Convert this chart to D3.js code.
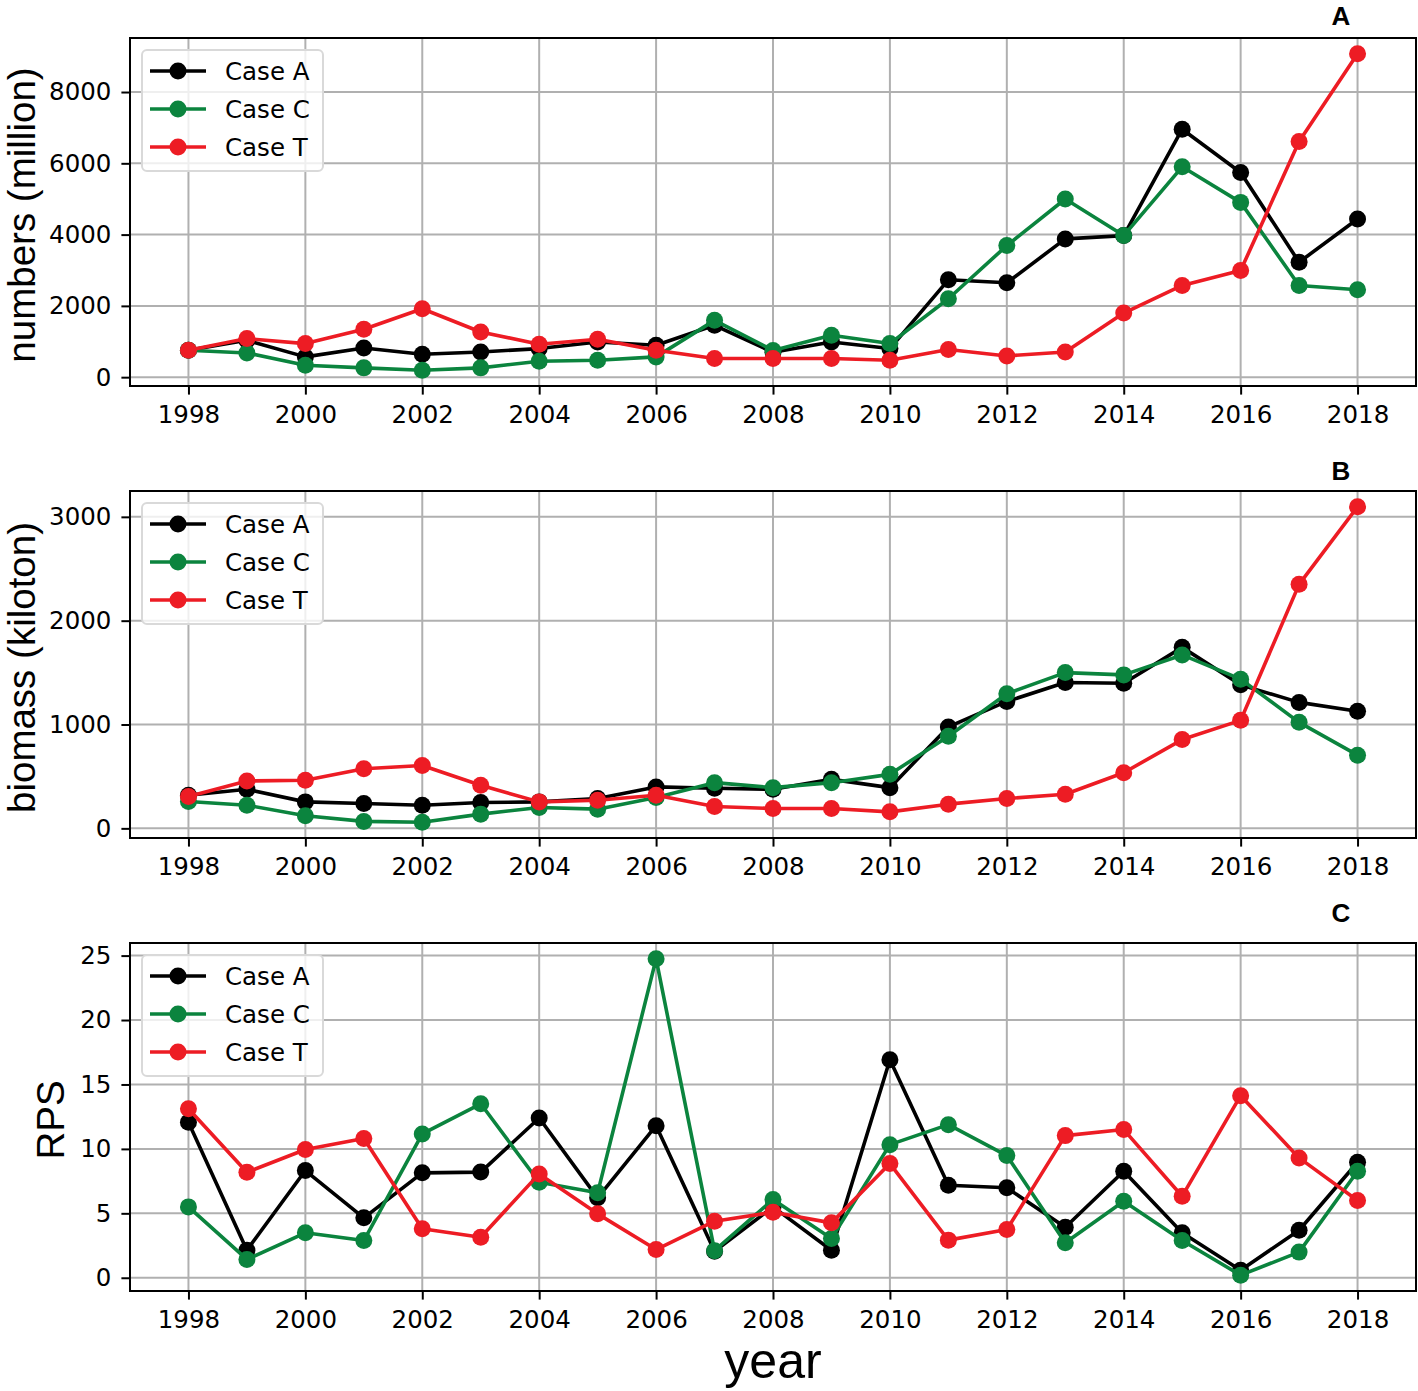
<!DOCTYPE html>
<html>
<head>
<meta charset="utf-8">
<script src="https://cdn.jsdelivr.net/npm/d3@7"></script>
<style>
  body { margin: 0; background: #fff; }
  svg { display: block; }
</style>
</head>
<body>
<svg id="chart" width="1418" height="1391"></svg>
<script>
// ---- data ----
const years = d3.range(1998, 2019);
const xTicks = d3.range(1998, 2019, 2);
const caseNames = ["Case A", "Case C", "Case T"];

// numbers (million)
const numbersA = [755, 1035, 569, 820, 643, 708, 802, 988, 895, 1455, 700, 988, 802, 2732, 2648, 3879, 3972, 6957, 5743, 3226, 4439];
const numbersC = [755, 680, 336, 261, 196, 261, 448, 475, 569, 1594, 750, 1175, 942, 2200, 3692, 4998, 3972, 5902, 4904, 2573, 2453];
const numbersT = [755, 1082, 942, 1343, 1920, 1268, 923, 1063, 755, 522, 522, 522, 475, 774, 596, 708, 1800, 2573, 2993, 6611, 9072];

// biomass (kiloton)
const biomassA = [319, 376, 255, 239, 223, 249, 255, 287, 399, 386, 376, 472, 392, 977, 1222, 1404, 1398, 1743, 1382, 1213, 1127];
const biomassC = [258, 223, 121, 67, 59, 137, 201, 185, 297, 440, 392, 440, 520, 887, 1296, 1500, 1478, 1670, 1437, 1021, 705];
const biomassT = [306, 456, 463, 574, 606, 415, 255, 271, 319, 211, 191, 191, 159, 233, 287, 329, 536, 855, 1040, 2350, 3097];

// RPS
const rpsA = [12.06, 2.14, 8.32, 4.65, 8.14, 8.2, 12.4, 6.2, 11.8, 2.06, 5.5, 2.14, 16.92, 7.18, 6.98, 3.92, 8.26, 3.49, 0.59, 3.69, 8.96];
const rpsC = [5.5, 1.42, 3.49, 2.89, 11.16, 13.5, 7.41, 6.59, 24.75, 2.1, 6.07, 3.05, 10.33, 11.88, 9.48, 2.71, 5.94, 2.89, 0.2, 1.99, 8.26];
const rpsT = [13.12, 8.19, 9.95, 10.8, 3.8, 3.15, 8.06, 4.96, 2.19, 4.39, 5.09, 4.26, 8.86, 2.92, 3.74, 11.03, 11.5, 6.33, 14.13, 9.3, 5.99];

const numbersTicks = [0, 2000, 4000, 6000, 8000];
const biomassTicks = [0, 1000, 2000, 3000];
const rpsTicks = [0, 5, 10, 15, 20, 25];

// ---- layout ----
const colors = ["#000000", "#0b843e", "#ed1c24"];
const left = 130, right = 1416;
const panels = [
  { top: 38,  bottom: 386,  series: [numbersA, numbersC, numbersT], ticks: numbersTicks,
    label: "numbers (million)", labelX: 22, letter: "A", letterY: 25 },
  { top: 491, bottom: 838,  series: [biomassA, biomassC, biomassT], ticks: biomassTicks,
    label: "biomass (kiloton)", labelX: 22, letter: "B", letterY: 480 },
  { top: 943, bottom: 1291, series: [rpsA, rpsC, rpsT], ticks: rpsTicks,
    label: "RPS", labelX: 51, letter: "C", letterY: 922 }
];

const svg = d3.select("#chart");
const tickFont = "'DejaVu Sans', sans-serif";
const labelFont = "'Liberation Sans', Arial, sans-serif";

// matplotlib-style 5% autoscale margins
function padded(lo, hi) {
  const m = (hi - lo) * 0.05;
  return [lo - m, hi + m];
}

const x = d3.scaleLinear().domain(padded(1998, 2018)).range([left, right]);

panels.forEach(p => {
  const all = p.series.flat();
  const y = d3.scaleLinear().domain(padded(d3.min(all), d3.max(all))).range([p.bottom, p.top]);
  const g = svg.append("g");

  // grid
  g.append("g").selectAll("line").data(xTicks).join("line")
    .attr("x1", d => x(d)).attr("x2", d => x(d))
    .attr("y1", p.top).attr("y2", p.bottom)
    .attr("stroke", "#b0b0b0").attr("stroke-width", 2);
  g.append("g").selectAll("line").data(p.ticks).join("line")
    .attr("x1", left).attr("x2", right)
    .attr("y1", d => y(d)).attr("y2", d => y(d))
    .attr("stroke", "#b0b0b0").attr("stroke-width", 2);

  // axes
  const xAxis = g.append("g")
    .attr("transform", `translate(0,${p.bottom})`)
    .call(d3.axisBottom(x).tickValues(xTicks).tickFormat(d3.format("d")).tickSize(8.6).tickPadding(11));
  const yAxis = g.append("g")
    .attr("transform", `translate(${left},0)`)
    .call(d3.axisLeft(y).tickValues(p.ticks).tickFormat(d3.format("d")).tickSize(8.6).tickPadding(10));
  [xAxis, yAxis].forEach(a => {
    a.select(".domain").remove();
    a.selectAll("line").attr("stroke", "#000").attr("stroke-width", 2);
    a.selectAll("text").attr("font-family", tickFont).attr("font-size", 24.5).attr("fill", "#000");
  });

  // lines and markers
  p.series.forEach((vals, i) => {
    const pts = years.map((yr, j) => [yr, vals[j]]);
    g.append("path").datum(pts)
      .attr("fill", "none").attr("stroke", colors[i]).attr("stroke-width", 3.6)
      .attr("stroke-linejoin", "round")
      .attr("d", d3.line().x(d => x(d[0])).y(d => y(d[1])));
    g.append("g").selectAll("circle").data(pts).join("circle")
      .attr("cx", d => x(d[0])).attr("cy", d => y(d[1]))
      .attr("r", 8.5).attr("fill", colors[i]);
  });

  // frame
  g.append("rect")
    .attr("x", left).attr("y", p.top)
    .attr("width", right - left).attr("height", p.bottom - p.top)
    .attr("fill", "none").attr("stroke", "#000").attr("stroke-width", 2);

  // legend
  const lg = g.append("g").attr("transform", `translate(142,${p.top + 12})`);
  lg.append("rect")
    .attr("width", 181).attr("height", 121).attr("rx", 5)
    .attr("fill", "#fff").attr("fill-opacity", 0.8)
    .attr("stroke", "#d9d9d9").attr("stroke-width", 2);
  caseNames.forEach((name, i) => {
    const cy = 21 + i * 38;
    lg.append("line").attr("x1", 8).attr("x2", 64).attr("y1", cy).attr("y2", cy)
      .attr("stroke", colors[i]).attr("stroke-width", 3.6);
    lg.append("circle").attr("cx", 36).attr("cy", cy).attr("r", 8.5).attr("fill", colors[i]);
    lg.append("text").attr("x", 83).attr("y", cy).attr("dy", "0.36em")
      .attr("font-family", tickFont).attr("font-size", 24.5).attr("fill", "#000")
      .text(name);
  });

  // y label
  svg.append("text")
    .attr("transform", `translate(${p.labelX + 13},${(p.top + p.bottom) / 2 + 3}) rotate(-90)`)
    .attr("text-anchor", "middle")
    .attr("font-family", labelFont).attr("font-size", 38.5).attr("fill", "#000")
    .text(p.label);

  // panel letter
  svg.append("text")
    .attr("x", 1341).attr("y", p.letterY)
    .attr("text-anchor", "middle")
    .attr("font-family", labelFont).attr("font-weight", "bold").attr("font-size", 26)
    .text(p.letter);
});

svg.append("text")
  .attr("x", 773).attr("y", 1378)
  .attr("text-anchor", "middle")
  .attr("font-family", labelFont).attr("font-size", 50).attr("fill", "#000")
  .text("year");
</script>
</body>
</html>
